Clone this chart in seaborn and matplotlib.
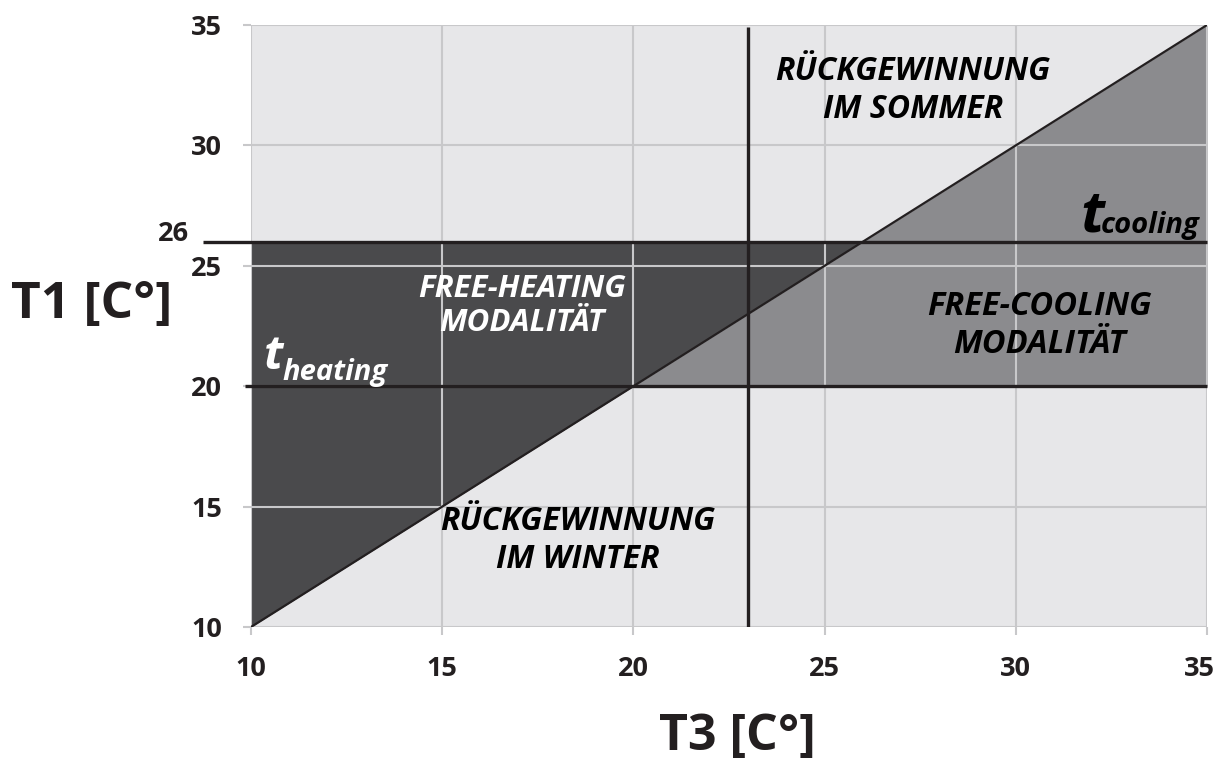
import matplotlib
matplotlib.use("Agg")
import matplotlib.pyplot as plt
import matplotlib.transforms as mtransforms
import numpy as np
import pandas as pd
import seaborn as sns

# Temperature thresholds and axis ranges (°C)
t_heating = 20
t_cooling = 26
t3_split = 23
axis_min, axis_max = 10, 35
ticks = [10, 15, 20, 25, 30, 35]
diag_t3 = [10, 35]
diag_t1 = [10, 35]

BG = "#e7e7e9"
DARK = "#4a4a4c"
MID = "#8b8b8e"
INK = "#231f20"
GRID = "#c8c8ca"

sns.set_theme(style="whitegrid")
plt.rcParams["font.family"] = ["Open Sans", "DejaVu Sans"]

fig = plt.figure(figsize=(12.18, 7.60), dpi=100)
ax = fig.add_axes([251 / 1218, 1 - 627 / 760, 956 / 1218, 602 / 760])
ax.set_facecolor(BG)

# Free-heating region: above the diagonal, below t_cooling
xs = np.array([axis_min, t_cooling])
ax.fill_between(xs, xs, t_cooling, color=DARK, lw=0, zorder=0.3)
# Free-cooling region: below the diagonal, above t_heating
xs2 = np.array([t_heating, axis_max])
ax.fill_between(xs2, t_heating, xs2, color=MID, lw=0, zorder=0.3)

ax.set_xlim(axis_min, axis_max)
ax.set_ylim(axis_min, axis_max)
ax.set_xticks(ticks)
ax.set_yticks(ticks)
ax.grid(True, color=GRID, lw=1.5, zorder=0.5)
ax.set_axisbelow(False)
for s in ax.spines.values():
    s.set_visible(False)
ax.tick_params(axis="both", length=6, width=1.5, color=GRID, pad=15,
               labelsize=19.5, labelcolor=INK, left=True, bottom=True)
for lab in ax.get_xticklabels() + ax.get_yticklabels():
    lab.set_fontweight("bold")
for gl in ax.get_xgridlines() + ax.get_ygridlines():
    gl.set_zorder(0.5)

# keep the last x tick label inside the canvas
last = ax.get_xticklabels()[-1]
last.set_transform(last.get_transform() +
                   mtransforms.ScaledTranslation(-8 / 100, 0, fig.dpi_scale_trans))

# Diagonal T1 = T3
diag = pd.DataFrame({"T3": diag_t3, "T1": diag_t1})
sns.lineplot(data=diag, x="T3", y="T1", color=INK, lw=1.6, ax=ax, zorder=3)

# Threshold lines
ax.plot([8.74, axis_max], [t_cooling, t_cooling], color=INK, lw=2.4,
        clip_on=False, zorder=4, solid_capstyle="butt")
ax.plot([9.84, axis_max], [t_heating, t_heating], color=INK, lw=2.4,
        clip_on=False, zorder=4, solid_capstyle="butt")
ax.plot([t3_split, t3_split], [axis_min, 34.9], color=INK, lw=2.4,
        zorder=4, solid_capstyle="butt")

ax.text(8.38, t_cooling + 0.05, str(t_cooling), ha="right", va="baseline",
        fontsize=19.5, fontweight="bold", color=INK, clip_on=False)

ax.set_xlabel("")
ax.set_ylabel("")

lab_kw = dict(ha="center", va="center", fontweight="bold", style="italic",
              linespacing=1.2, zorder=5)
ax.text(27.31, 32.3, "RÜCKGEWINNUNG\nIM SOMMER", fontsize=23, color="black", **lab_kw)
ax.text(17.09, 23.33, "FREE-HEATING\nMODALITÄT", fontsize=22.5, color="white", **lab_kw)
ax.text(30.63, 22.54, "FREE-COOLING\nMODALITÄT", fontsize=23.5, color="black", **lab_kw)
ax.text(18.55, 13.6, "RÜCKGEWINNUNG\nIM WINTER", fontsize=23, color="black", **lab_kw)

# Threshold symbols t_heating / t_cooling
sym_kw = dict(fontweight="bold", style="italic", zorder=5)
ax.text(10.33, 20.7, "t", fontsize=34, color="white", ha="left", va="baseline", **sym_kw)
ax.text(10.81, 20.26, "heating", fontsize=21, color="white", ha="left", va="baseline", **sym_kw)
ax.text(31.70, 26.42, "t", fontsize=42, color="black", ha="left", va="baseline", **sym_kw)
ax.text(32.22, 26.36, "cooling", fontsize=21, color="black", ha="left", va="baseline", **sym_kw)

fig.text(92 / 1218, 1 - 305 / 760, "T1 [C°]", ha="center", va="center",
         fontsize=37, fontweight="bold", color=INK)
fig.text(737 / 1218, 1 - 737 / 760, "T3 [C°]", ha="center", va="center",
         fontsize=36, fontweight="bold", color=INK)

fig.savefig("out.png", dpi=100, facecolor="white")
